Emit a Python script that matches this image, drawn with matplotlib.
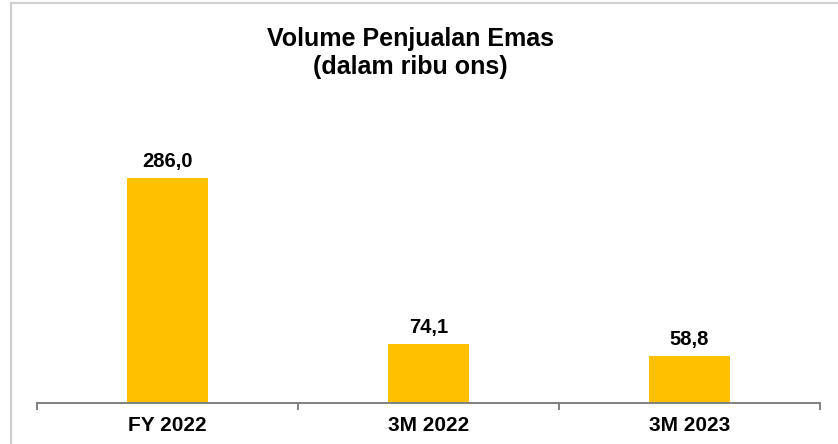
import matplotlib
matplotlib.use("Agg")
import matplotlib.pyplot as plt
from matplotlib.lines import Line2D

categories = ["FY 2022", "3M 2022", "3M 2023"]
values = [286.0, 74.1, 58.8]
value_labels = ["286,0", "74,1", "58,8"]

plt.rcParams["font.family"] = ["Liberation Sans", "DejaVu Sans"]

W, H = 838, 444
fig = plt.figure(figsize=(W / 100, H / 100), dpi=100)

# axes placed in pixel terms
left, right, bottom = 37, 820, 402.5
ymax = 330
scale = 224 / 286.0
top = bottom - ymax * scale
ax = fig.add_axes([left / W, (H - bottom) / H, (right - left) / W, (bottom - top) / H])

x = list(range(len(categories)))
ax.bar(x, values, width=0.31, color="#FFC000", zorder=2)

for xi, v, lab in zip(x, values, value_labels):
    ax.annotate(lab, (xi, v), xytext=(0, 11), textcoords="offset pixels",
                ha="center", va="baseline", fontsize=14.5, fontweight="bold")

ax.set_xlim(-0.5, len(categories) - 0.5)
ax.set_ylim(0, ymax)

for s in ["top", "right", "left"]:
    ax.spines[s].set_visible(False)
ax.spines["bottom"].set_color("#808080")
ax.spines["bottom"].set_linewidth(1.4)

ax.set_yticks([])
ax.set_xticks(x)
ax.set_xticklabels(categories, fontsize=15, fontweight="bold")
ax.tick_params(axis="x", which="major", length=0, pad=10)
ax.set_xticks([i - 0.5 for i in range(len(categories) + 1)], minor=True)
ax.tick_params(axis="x", which="minor", length=5, width=1.4, color="#808080", direction="out")

fig.text(410 / W, 1 - 53 / H, "Volume Penjualan Emas\n(dalam ribu ons)",
         ha="center", va="center", fontsize=18, fontweight="bold", linespacing=1.25)

# light frame at top and left edges
fig.add_artist(Line2D([10.5 / W, 1], [1 - 3.5 / H, 1 - 3.5 / H], color="#cfcfcf", lw=1.6))
fig.add_artist(Line2D([10.5 / W, 10.5 / W], [0, 1 - 3.5 / H], color="#cfcfcf", lw=1.6))

fig.savefig("out.png", dpi=100)
